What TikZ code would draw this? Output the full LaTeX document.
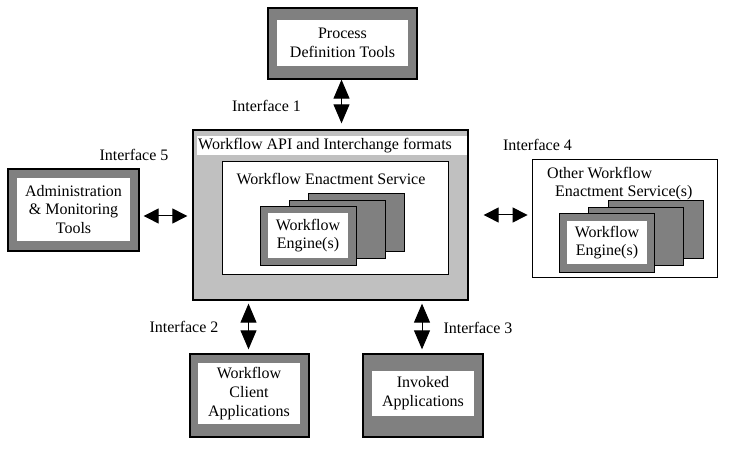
\documentclass[tikz,border=0pt]{standalone}
\usepackage{fontspec}
\setmainfont{Liberation Serif}
\usetikzlibrary{arrows.meta}
\definecolor{dgray}{HTML}{808080}
\definecolor{lgray}{HTML}{C0C0C0}
\newcommand{\mybox}[7]{\node[#1, minimum width={(#4-#2)*1pt}, minimum height={(#5-#3)*1pt}] (#6) at ({(#2+#4)/2},{(#3+#5)/2}) {#7};}
\tikzset{
  every node/.style={font=\fontsize{16}{18.8}\selectfont, inner sep=0pt},
  outerbox/.style={draw=black, line width=1.3pt, fill=dgray},
  cardbox/.style={draw=black, line width=1pt, fill=dgray},
  whitebox/.style={fill=white, align=center},
  framebox/.style={draw=black, line width=0.8pt, fill=white},
  mainbox/.style={draw=black, line width=1.3pt, fill=lgray},
  vdbl/.style={{Triangle[width=16pt,length=19pt]}-{Triangle[width=16pt,length=19pt]}, line width=1pt},
  hdbl/.style={{Triangle[width=15pt,length=15pt]}-{Triangle[width=15pt,length=15pt]}, line width=1pt},
}
\begin{document}
\begin{tikzpicture}[x=1pt,y=-1pt]
\useasboundingbox (0,0) rectangle (742,454);

% Process Definition Tools
\mybox{outerbox}{268}{8}{417}{79}{pdt}{}
\mybox{whitebox}{277}{20}{408}{66}{pdti}{Process\\Definition Tools}

% Main box
\mybox{mainbox}{193}{130}{468}{300}{main}{}
\mybox{whitebox}{197}{136}{467}{155}{hdr}{}
\node[anchor=west] (hdrt) at (198,145.5) {Workflow API and Interchange formats};
\mybox{framebox}{222}{161}{448}{274}{wes}{}
\node (west) at (331,179) {Workflow Enactment Service};
\mybox{cardbox}{308}{194}{404}{252}{e1c}{}
\mybox{cardbox}{289}{201}{385}{259}{e1b}{}
\mybox{cardbox}{260}{207}{356}{266}{e1a}{}
\mybox{whitebox}{268}{213}{348}{258}{e1i}{Workflow\\Engine(s)}

% Administration
\mybox{outerbox}{8}{169}{139}{251}{adm}{}
\mybox{whitebox}{17}{178}{130}{241}{admi}{Administration\\\& Monitoring\\Tools}

% Other workflow enactment service
\mybox{framebox}{532}{159}{717}{277}{other}{}
\node[anchor=west, align=left] (othert) at (547,183.5) {Other Workflow\\\hspace*{8pt}Enactment Service(s)};
\mybox{cardbox}{608}{201}{703}{259}{e2c}{}
\mybox{cardbox}{588}{208}{683}{266}{e2b}{}
\mybox{cardbox}{559}{214}{654}{273}{e2a}{}
\mybox{whitebox}{567}{221}{647}{264}{e2i}{Workflow\\Engine(s)}

% Client applications
\mybox{outerbox}{190}{354}{309}{437}{cli}{}
\mybox{whitebox}{198}{363}{300}{424}{clii}{Workflow\\Client\\Applications}

% Invoked applications
\mybox{outerbox}{363}{354}{483}{437}{inv}{}
\mybox{whitebox}{372}{371}{474}{416}{invi}{Invoked\\Applications}

% Interface labels
\node (if1) at (266.5,106) {Interface 1};
\node (if5) at (134,155) {Interface 5};
\node (if4) at (537.5,145) {Interface 4};
\node (if2) at (184,327) {Interface 2};
\node (if3) at (478,328) {Interface 3};

% Arrows
\draw[vdbl, shorten >=6pt] ([xshift=-1pt]pdt.south) -- ([xshift=-1pt]pdt.south |- main.north);
\draw[hdbl, shorten <=4pt, shorten >=5pt] ([yshift=-6pt]adm.east) -- ([yshift=-6pt]adm.east -| main.west);
\draw[hdbl, shorten <=4pt, shorten >=15pt] ([yshift=3pt]other.west) -- ([yshift=3pt]other.west -| main.east);
\draw[vdbl, shorten <=4pt, shorten >=3pt] ([xshift=-1pt]cli.north) -- ([xshift=-1pt]cli.north |- main.south);
\draw[vdbl, shorten <=4pt, shorten >=3pt] ([xshift=-1pt]inv.north) -- ([xshift=-1pt]inv.north |- main.south);
\end{tikzpicture}
\end{document}
